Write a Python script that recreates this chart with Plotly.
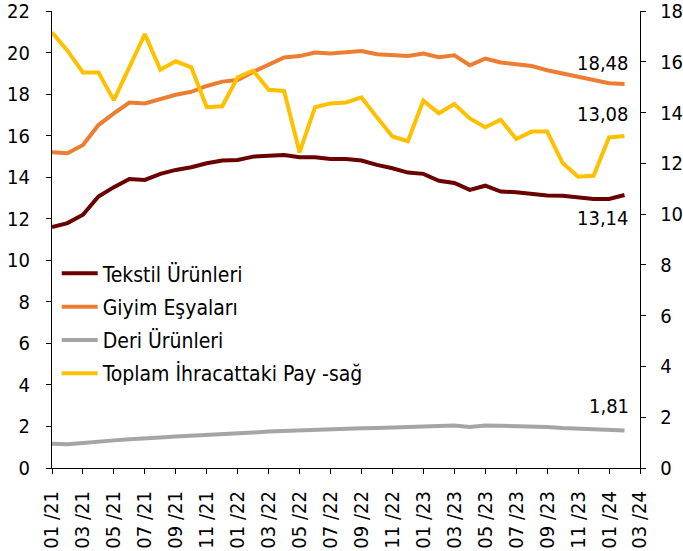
import plotly.graph_objects as go

months = ["01/21", "02/21", "03/21", "04/21", "05/21", "06/21", "07/21", "08/21", "09/21", "10/21", "11/21", "12/21",
          "01/22", "02/22", "03/22", "04/22", "05/22", "06/22", "07/22", "08/22", "09/22", "10/22", "11/22", "12/22",
          "01/23", "02/23", "03/23", "04/23", "05/23", "06/23", "07/23", "08/23", "09/23", "10/23", "11/23", "12/23",
          "01/24", "02/24", "03/24"]
tick_vals = months[::2]
tick_text = [m.replace("/", " /") for m in tick_vals]

tekstil = [11.60, 11.79, 12.19, 13.07, 13.52, 13.91, 13.87, 14.16, 14.35, 14.48, 14.67, 14.80, 14.83,
           14.99, 15.03, 15.07, 14.96, 14.96, 14.87, 14.87, 14.80, 14.59, 14.43, 14.22, 14.16,
           13.83, 13.72, 13.39, 13.59, 13.31, 13.28, 13.20, 13.12, 13.11, 13.04, 12.95, 12.95, 13.14]
giyim = [15.20, 15.15, 15.55, 16.51, 17.07, 17.59, 17.55, 17.76, 17.97, 18.11, 18.39, 18.60, 18.68,
         19.07, 19.39, 19.76, 19.83, 20.00, 19.95, 20.03, 20.07, 19.92, 19.87, 19.83, 19.95,
         19.78, 19.87, 19.39, 19.71, 19.52, 19.44, 19.35, 19.15, 18.99, 18.83, 18.67, 18.52, 18.48]
deri = [1.17, 1.14, 1.20, 1.28, 1.33, 1.38, 1.41, 1.47, 1.52, 1.55, 1.60, 1.65, 1.67, 1.71, 1.76, 1.79, 1.81, 1.83, 1.84,
        1.87, 1.91, 1.92, 1.95, 1.99, 2.02, 2.03, 2.05, 1.98, 2.05, 2.03, 2.02, 2.00, 1.97, 1.92, 1.89, 1.86, 1.83, 1.81]
toplam_pay = [17.16, 16.44, 15.58, 15.58, 14.49, 15.79, 17.09, 15.69, 16.02, 15.78, 14.21, 14.25, 15.39,
              15.65, 14.90, 14.85, 12.43, 14.21, 14.36, 14.40, 14.60, 13.81, 13.06, 12.87, 14.47,
              13.97, 14.34, 13.77, 13.42, 13.72, 12.96, 13.25, 13.25, 12.01, 11.47, 11.51, 13.02, 13.08]

names = ["Tekstil Ürünleri", "Giyim Eşyaları", "Deri Ürünleri", "Toplam İhracattaki Pay -sağ"]
colors = ["#6B0000", "#ED7D31", "#A5A5A5", "#FFC000"]

FONT = "DejaVu Sans Condensed, DejaVu Sans, sans-serif"
FS = 20
FS_LEG = 21

x = months[:len(tekstil)]
fig = go.Figure()
series = [tekstil, giyim, deri, toplam_pay]
for i, (nm, col, ys) in enumerate(zip(names, colors, series)):
    fig.add_trace(go.Scatter(
        x=x, y=ys, name=nm, mode="lines",
        line=dict(color=col, width=4),
        yaxis="y2" if i == 3 else "y",
        legendgroup=str(i),
    ))

# end-point labels
lab_specs = [(tekstil[-1], -23), (giyim[-1], 21), (deri[-1], 24)]
for val, ys in lab_specs:
    fig.add_annotation(x=x[-1], y=val, yref="y", text=f"{val:.2f}".replace(".", ","),
                       showarrow=False, xanchor="right", xshift=6, yshift=ys,
                       font=dict(family=FONT, size=FS, color="#000"))
fig.add_annotation(x=x[-1], y=toplam_pay[-1], yref="y2", text=f"{toplam_pay[-1]:.2f}".replace(".", ","),
                   showarrow=False, xanchor="right", xshift=6, yshift=22,
                   font=dict(family=FONT, size=FS, color="#000"))

axis_common = dict(showgrid=False, zeroline=False, showline=True, linecolor="#000", linewidth=1.3,
                   ticks="outside", ticklen=5, tickcolor="#000", tickwidth=1.3, automargin=False,
                   ticklabeloverflow="allow")

fig.update_layout(
    width=683, height=551,
    margin=dict(l=52, r=43, t=11, b=83),
    paper_bgcolor="white", plot_bgcolor="white",
    font=dict(family=FONT, size=FS, color="#000"),
    showlegend=True,
    legend=dict(x=0.008, y=0.47, xanchor="left", yanchor="top", bgcolor="rgba(0,0,0,0)",
                font=dict(family=FONT, size=FS_LEG, color="#000"), tracegroupgap=3, itemwidth=36),
    xaxis=dict(type="category", categoryorder="array", categoryarray=months,
               range=[0, len(months) - 1], tickmode="array", tickvals=tick_vals, ticktext=tick_text,
               tickangle=-90, ticklabelstandoff=9,
               tickfont=dict(family=FONT, size=FS, color="#000"), **axis_common),
    yaxis=dict(range=[0, 22], dtick=2, tick0=0, ticklabelstandoff=12,
               tickfont=dict(family=FONT, size=FS, color="#000"), **axis_common),
    yaxis2=dict(range=[0, 18], dtick=2, tick0=0, overlaying="y", side="right", ticklabelstandoff=10,
                tickfont=dict(family=FONT, size=FS, color="#000"), **axis_common),
)

# remove the browser's default 8px page margin so the 683x551 figure fills the window exactly
fig.write_html("out.html", config={"displayModeBar": False},
               post_script="document.body.style.margin='0';document.body.style.overflow='hidden';")
